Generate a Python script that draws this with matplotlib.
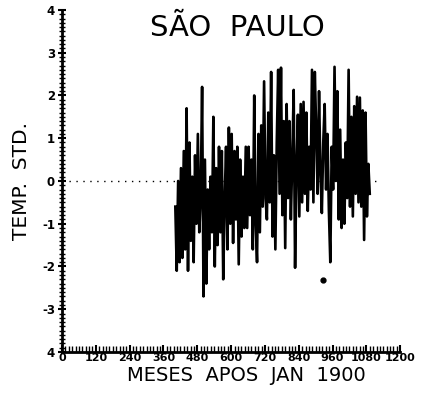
import matplotlib
matplotlib.use("Agg")
import matplotlib.pyplot as plt
from matplotlib.ticker import MultipleLocator, FixedLocator
import numpy as np

# ---- data ----
start_month = 402
step_months = 5
temp_std = [
    -0.6, -2.1, 0.0, -1.9, 0.3, -1.8, 0.7, -1.6, 1.7, -2.1,
    0.9, -1.4, 0.1, -1.9, 0.6, -1.0, 1.1, -1.2, -0.4, 2.2,
    -2.7, 0.5, -2.4, -0.2, -1.6, 0.1, -1.2, 1.5, -2.0, 0.3,
    -1.5, 0.8, -1.2, 0.7, -2.3, -0.5, 0.8, -1.6, 1.25, -1.0,
    1.1, -1.45, 0.7, -0.9, 0.8, -1.95, 0.5, -1.3, 0.1, -1.1,
    0.8, -1.1, 0.8, -0.8, 0.5, -1.6, 2.0, -1.0, -1.9, 1.1,
    -1.2, 1.3, -0.6, 2.33, -0.4, -0.9, 1.6, -0.5, 2.55, -1.3,
    0.6, -1.6, 0.9, 2.6, -0.3, 2.65, -0.8, 1.4, -1.57, 1.8,
    -0.4, 1.4, -0.9, 0.5, 2.13, -2.03, 0.3, 1.55, -0.83, 1.8,
    -0.5, 1.85, -0.3, 1.6, -0.7, 0.8, -0.2, 2.6, -0.5, 2.55,
    1.2, -0.3, 2.1, 0.2, -0.75, 0.9, 1.8, -0.2, 1.1, -0.7,
    -1.9, 0.8, -0.2, 2.67, 0.0, 2.1, -0.9, 1.2, -1.1, 0.5,
    -1.0, 0.9, -0.4, 2.6, -0.6, 1.5, -0.83, 1.75, -0.3, 1.97,
    -0.5, 1.95, -0.6, 1.65, -1.38, 1.6, -0.83, 0.4, -0.3,
]
months = [start_month + step_months * i for i in range(len(temp_std))]
spot_month = [926]
spot_value = [-2.32]

xtick_values = [0, 120, 240, 360, 480, 600, 720, 840, 960, 1080, 1200]
xtick_labels = ["0", "120", "240", "360", "480", "600", "720", "840", "960", "1080", "1200"]
ytick_values = [4, 3, 2, 1, 0, -1, -2, -3, -4]
ytick_labels = ["4", "3", "2", "1", "0", "-1", "-2", "-3", "4"]

title = "SÃO  PAULO"
xlabel = "MESES  APOS  JAN  1900"
ylabel = "TEMP.  STD."

# ---- figure ----
fig = plt.figure(figsize=(4.28, 3.98), dpi=100)
ax = fig.add_axes([0.145, 0.1156, 0.79, 0.8594])

ax.axhline(0, xmin=0, xmax=1130 / 1200, color="black", lw=1.0,
           ls=(0, (1, 4)), zorder=1)
ax.plot(months, temp_std, color="black", lw=1.9, zorder=2)
ax.plot(spot_month, spot_value, "o", color="black", ms=3.5, zorder=3)

ax.set_xlim(0, 1200)
ax.set_ylim(-4, 4)

for s in ["top", "right"]:
    ax.spines[s].set_visible(False)
for s in ["left", "bottom"]:
    ax.spines[s].set_linewidth(2.0)

ax.xaxis.set_major_locator(FixedLocator(xtick_values))
ax.set_xticklabels(xtick_labels, fontsize=8, fontweight="bold")
ax.xaxis.set_minor_locator(MultipleLocator(12))
ax.yaxis.set_major_locator(FixedLocator(ytick_values))
ax.set_yticklabels(ytick_labels, fontsize=8.5, fontweight="bold")
ax.yaxis.set_minor_locator(MultipleLocator(0.1))

ax.tick_params(axis="y", which="major", direction="inout", length=6, width=1.5, pad=2)
ax.tick_params(axis="y", which="minor", direction="inout", length=4, width=1.0)
ax.tick_params(axis="x", which="major", direction="in", length=5, width=1.5, pad=1)
ax.tick_params(axis="x", which="minor", direction="in", length=4, width=1.0)

fig.text(0.555, 0.965, title, fontsize=21, ha="center", va="top")
fig.text(0.575, 0.032, xlabel, fontsize=14, ha="center", va="bottom")
ax.set_ylabel(ylabel, fontsize=14.5, labelpad=8)

fig.savefig("out.png", dpi=100)
